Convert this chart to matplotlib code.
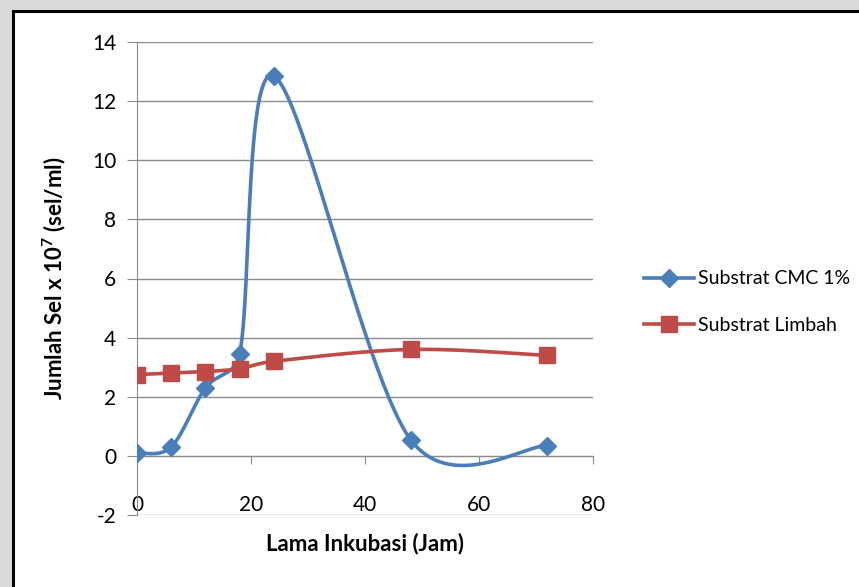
import numpy as np
import matplotlib
matplotlib.use("Agg")
import matplotlib.pyplot as plt
from matplotlib.patches import Rectangle

plt.rcParams['font.family'] = ['Lato', 'DejaVu Sans']
plt.rcParams['mathtext.fontset'] = 'custom'
plt.rcParams['mathtext.rm'] = 'Lato:bold'
plt.rcParams['mathtext.bf'] = 'Lato:bold'
plt.rcParams['mathtext.it'] = 'Lato:bold'
plt.rcParams['axes.unicode_minus'] = False

jam = [0, 6, 12, 18, 24, 48, 72]
cmc = [0.1, 0.3, 2.3, 3.45, 12.85, 0.55, 0.35]
limbah = [2.75, 2.8, 2.85, 2.95, 3.2, 3.6, 3.4]
yticks = [-2, 0, 2, 4, 6, 8, 10, 12, 14]
xticks = [0, 20, 40, 60, 80]

blue = '#4a7ebb'
red = '#be4b48'


def smooth(ax, x, y, n=80):
    # excel style smoothing, done in screen space
    # bezier with controls (P[i+1]-P[i-1])/6, capped at half the segment
    P = ax.transData.transform(np.column_stack([x, y]))
    P = np.vstack([P[0], P, P[-1]])
    t = np.linspace(0, 1, n)[:, None]
    out = []
    for i in range(1, len(P) - 2):
        p0, p1 = P[i], P[i + 1]
        seg = np.linalg.norm(p1 - p0)
        t0 = P[i + 1] - P[i - 1]
        t1 = P[i + 2] - P[i]
        v0 = t0 / 6
        v1 = t1 / 6
        if np.linalg.norm(v0) > seg / 2:
            v0 = v0 / np.linalg.norm(v0) * seg / 2
        if np.linalg.norm(v1) > seg / 2:
            v1 = v1 / np.linalg.norm(v1) * seg / 2
        c0 = p0 + v0
        c1 = p1 - v1
        b = (1 - t) ** 3 * p0 + 3 * (1 - t) ** 2 * t * c0 + 3 * (1 - t) * t ** 2 * c1 + t ** 3 * p1
        out.append(b)
    out = ax.transData.inverted().transform(np.vstack(out))
    return out[:, 0], out[:, 1]


fig = plt.figure(figsize=(8.59, 5.87), dpi=100)
fig.patch.set_facecolor('#dadada')
fig.patches.append(Rectangle((13 / 859, -0.05), 1.0, 1 - 11 / 587 + 0.05,
                             transform=fig.transFigure, facecolor='white',
                             edgecolor='black', linewidth=2.2, zorder=-10))

ax = fig.add_axes([137 / 859, 1 - 515 / 587, (593 - 137) / 859, (515 - 42) / 587])
ax.set_facecolor('none')
ax.set_xlim(0, 80)
ax.set_ylim(-2, 14)

sx, sy = smooth(ax, jam, cmc)
ax.plot(sx, sy, color=blue, lw=2.6, zorder=3, solid_capstyle='round')
ax.plot(jam, cmc, ls='none', marker='D', ms=9, color=blue, zorder=4)
lx, ly = smooth(ax, jam, limbah)
ax.plot(lx, ly, color=red, lw=2.6, zorder=3)
ax.plot(jam, limbah, ls='none', marker='s', ms=11, color=red, zorder=4)

ax.set_yticks(yticks)
ax.set_xticks(xticks)
ax.grid(axis='y', color='#8c8c8c', lw=1)
ax.set_axisbelow(True)
for s in ['top', 'right']:
    ax.spines[s].set_visible(False)
ax.spines['left'].set_color('#8c8c8c')
ax.spines['bottom'].set_color('#8c8c8c')
ax.spines['bottom'].set_position(('data', 0))
ax.tick_params(axis='y', length=7, color='#8c8c8c', labelsize=15, pad=8)
ax.tick_params(axis='x', length=6, color='#8c8c8c', labelsize=15, pad=22)

ax.set_xlabel('Lama Inkubasi (Jam)', fontsize=16, fontweight='bold', labelpad=0)
ax.xaxis.set_label_coords(0.5, -0.038)
ax.set_ylabel(r'Jumlah Sel x 10$^{7}$ (sel/ml)', fontsize=16, fontweight='bold')
ax.yaxis.set_label_coords(-0.151, 0.5)

h1, = ax.plot([], [], color=blue, lw=2.6, marker='D', ms=9)
h2, = ax.plot([], [], color=red, lw=2.6, marker='s', ms=11)
fig.legend([h1, h2], ['Substrat CMC 1%', 'Substrat Limbah'],
           loc='center left', bbox_to_anchor=(626 / 859, 1 - 302 / 587),
           frameon=False, fontsize=14, handlelength=2.6, handletextpad=0.2,
           labelspacing=1.5)

fig.savefig('out.png', dpi=100, facecolor=fig.get_facecolor())
